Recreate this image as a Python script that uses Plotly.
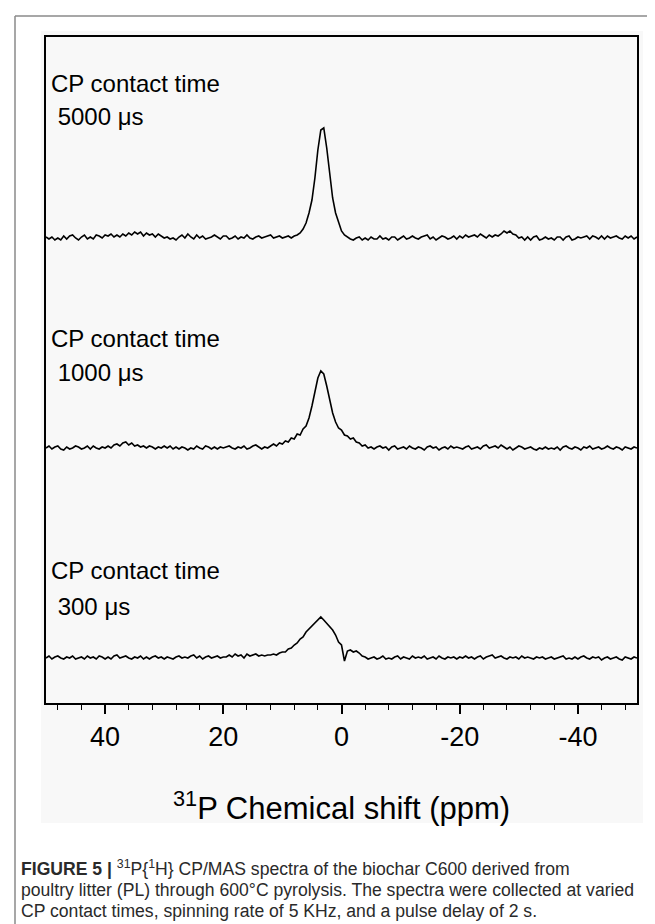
import numpy as np
import plotly.graph_objects as go

# chemical-shift sampling (ppm), 0.5 ppm steps from 50 to -50
ppm_start, ppm_step = 50.0, -0.5

tick_values = [40, 20, 0, -20, -40]
tick_labels = ["40", "20", "0", "-20", "-40"]

labels_line1 = ["CP contact time", "CP contact time", "CP contact time"]
labels_line2 = [" 5000 μs", " 1000 μs", " 300 μs"]

# intensities (arbitrary units), ppm 50 -> -50
spec_5000 = [
    1, -1, 1, -2, 0, -2, 2, -1, 2, 3, 0, -2, 1, 3, -1, 1, -1, 3, 2, 0, 3,
    2, 4, 1, 3, 1, 4, 2, 5, 3, 6, 4, 6, 2, 5, 3, 4, 1, 4, 2, 0,
    1, -1, 0, -2, 1, 3, 0, 4, 1, -1, 3, 0, 2, -1, 0, 1, 3, 1, -1, 2,
    2, -1, 0, 2, -1, 1, 0, 3, 0, -1, 1, 2, 0, 1, 2, 3, 0, 1, 2, 0, 1, 2, 0,
    2, 3, 5, 9, 15, 25, 38, 60, 88, 108, 110, 90, 62, 40, 25, 15, 7, 3, 1,
    -1, -2, 0, 1, -2, 0, -2, 1, -1, -1, 2, -1, 0, -2, 1, 1, -2, 0,
    2, -1, 0, 2, 0, -1, 1, 2, 3, -1, 1, -2, 0, 2, 1, -1, 0, 2, -1, 2,
    0, 3, 1, 2, 3, 1, 4, 2, 0, 3, 1, 3, 2, 4, 7, 5, 7, 4, 3, 0,
    1, -2, 1, -2, 1, 2, -2, -1, 1, -1, 0, -2, 1, 1, -2, 1, 2, -2, -1, 1,
    0, 1, 2, -1, 2, 1, -1, 2, -1, 2, 0, 1, 2, 0, -1, 2, 0, 2, -1, 1,
]
spec_1000 = [
    0, 2, -1, 1, 2, -1, -2, 1, -1, 0, 2, 1, -1, 0, 2, -1, 2, 0, -1, 1, 0,
    2, 0, 3, 4, 2, 5, 6, 3, 5, 2, 3, 1, 2, 0, 2, 1, -1, 1, 0, 2,
    0, 2, -1, 1, -1, 1, 0, -2, 0, -1, 2, 0, -1, 2, 1, -1, 1, -1, 1, 0,
    1, 2, 0, -1, 1, 0, 2, -1, 0, 2, 3, 1, -1, 1, 0,
    2, 4, 2, 5, 4, 7, 6, 10, 9, 14, 13, 19, 22, 30, 42, 55, 70, 77, 74, 62,
    48, 35, 26, 20, 18, 13, 12, 9, 10, 6, 5, 2, 3, 0,
    1, -1, 1, 2, 0, 1, -2, 1, 2, -1, 0, 1, -1, 2, 0, -1, 1, 0, -2, 1, 2, 0, 1, -2, 0, 1, -1, 2, 0, 1, 0,
    -1, 1, 2, -1, 0, 1, -1, 2, 3, 0, 1, 2, 0, 3, 1, -1, 1, -2, 0, 2, 1, -1, 0, 1, -1, -2, 0, -1, 1, -1,
    0, -1, 1, -2, 1, 2, 0, -1, 1, 0, -2, 1, 0, 2, -1, 0, 1, -1, 0, 2, 0, -1, 1, 0, -2, 1, 0, -1, 1, 0,
]
spec_300 = [
    0, 2, -1, 1, 2, 0, -1, 1, 0, 2, -1, 0, 1, -1, 2, 0, 1, -1, 2, 1, -1,
    1, -1, 2, 3, 0, 1, 2, 0, -1, 1, 0, 2, -1, 1, -1, 1, 2, 0, 1, -1,
    1, 0, -1, 1, 2, 0, 1, 0, 2, 3, 0, 2, -1, 1, 2, 0, 1, 2, 0, 1,
    1, 3, 1, 4, 2, 3, 0, 4, 2, 3, 4, 2, 3, 2, 3,
    3, 4, 3, 5, 6, 6, 9, 10, 13, 15, 19, 21, 26, 29, 33, 35, 39, 41, 38, 35,
    31, 28, 23, 16, 13, -3, 7, 8, 6, 7, 5, 2, 1,
    -1, 0, 1, -1, 0, 2, -1, 0, -1, 1, 2, -1, 1, 0, -1, 2, 0, 1, 0, 2, -1, 0, 1, -1, 2, 0, -1, 1, 0, 1, -1, 1,
    0, 2, 0, 1, -1, 1, 2, -1, 1, 2, 3, 0, 1, 2, 0, -1, 1, 0, 1, -1, 2, 0, 1, 0, -1, 1, 0, 1, -1, 0,
    1, -1, 0, 1, 2, -1, 0, -1, 1, -1, 1, 2, 0, -1, 1, 0, 1, -2, 0, 1, -1, 0, 1, -1, -2, 1, 0, -1, 1, 0,
]
spectra = [spec_5000, spec_1000, spec_300]
offsets = [465, 255, 45]          # vertical stacking offsets of each spectrum

W, H = 655, 924
L, R, T, B = 38, 629, 29, 695     # plot area in pixels
pw, ph = R - L, B - T

def px(x):  # pixel x -> paper
    return (x - L) / pw

def py(y):  # pixel y -> paper
    return (B - y) / ph

fig = go.Figure()
for spec, off in zip(spectra, offsets):
    arr = np.array(spec, dtype=float)
    x = ppm_start + ppm_step * np.arange(len(arr))
    fig.add_trace(go.Scatter(x=x, y=arr + off, mode="lines",
                             line=dict(color="black", width=1.6),
                             showlegend=False, hoverinfo="skip"))

font_main = "Liberation Sans, Arial, sans-serif"
# spectrum labels
label_y = [(75, 108), (330, 364), (562, 598)]
for (l1, l2), (y1, y2) in zip(zip(labels_line1, labels_line2), label_y):
    fig.add_annotation(x=px(41), y=py(y1), xref="paper", yref="paper", text=l1,
                       showarrow=False, xanchor="left", yanchor="middle",
                       font=dict(family=font_main, size=24, color="black"))
    fig.add_annotation(x=px(41), y=py(y2), xref="paper", yref="paper", text=l2,
                       showarrow=False, xanchor="left", yanchor="middle",
                       font=dict(family=font_main, size=24, color="black"))

# axis title
fig.add_annotation(x=0.5, y=py(798), xref="paper", yref="paper",
                   text="<sup>31</sup>P Chemical shift (ppm)", showarrow=False,
                   xanchor="center", yanchor="middle",
                   font=dict(family=font_main, size=31, color="black"))

# caption
cap_font = dict(family="Liberation Sans Narrow, Arial Narrow, Liberation Sans, sans-serif",
                size=17.6, color="#2a2a2a")
caption = [
    "<b>FIGURE 5 |</b> <sup>31</sup>P{<sup>1</sup>H} CP/MAS spectra of the biochar C600 derived from",
    "poultry litter (PL) through 600°C pyrolysis. The spectra were collected at varied",
    "CP contact times, spinning rate of 5 KHz, and a pulse delay of 2 s.",
]
for line, yy in zip(caption, [860, 882, 903]):
    fig.add_annotation(x=px(11), y=py(yy), xref="paper", yref="paper", text=line,
                       showarrow=False, xanchor="left", yanchor="middle", font=cap_font)

shapes = [
    # light panel behind chart
    dict(type="rect", xref="paper", yref="paper", x0=px(33), x1=px(635), y0=py(815), y1=py(23),
         fillcolor="#f8f8f8", line=dict(width=0), layer="below"),
    # outer figure border
    dict(type="line", xref="paper", yref="paper", x0=px(7), x1=px(7), y0=py(930), y1=py(8),
         line=dict(color="#8a8a8a", width=1.5)),
    dict(type="line", xref="paper", yref="paper", x0=px(7), x1=px(660), y0=py(8), y1=py(8),
         line=dict(color="#8a8a8a", width=1.5)),
]

fig.update_layout(
    width=W, height=H,
    margin=dict(l=L, r=W - R, t=T, b=H - B),
    paper_bgcolor="white", plot_bgcolor="#f8f8f8",
    shapes=shapes,
    xaxis=dict(range=[50, -50], showgrid=False, zeroline=False,
               showline=True, linecolor="black", linewidth=1.5, mirror=True,
               ticks="outside", ticklen=9, tickwidth=1.5, tickcolor="black",
               tickmode="array", tickvals=tick_values, ticktext=tick_labels,
               minor=dict(dtick=4, tick0=0, ticks="outside", ticklen=5, tickwidth=1.2, tickcolor="black"),
               tickfont=dict(family=font_main, size=27, color="black")),
    yaxis=dict(range=[0, ph], showgrid=False, zeroline=False, showticklabels=False,
               showline=True, linecolor="black", linewidth=1.5, mirror=True, ticks=""),
)

fig.write_html("out.html")
